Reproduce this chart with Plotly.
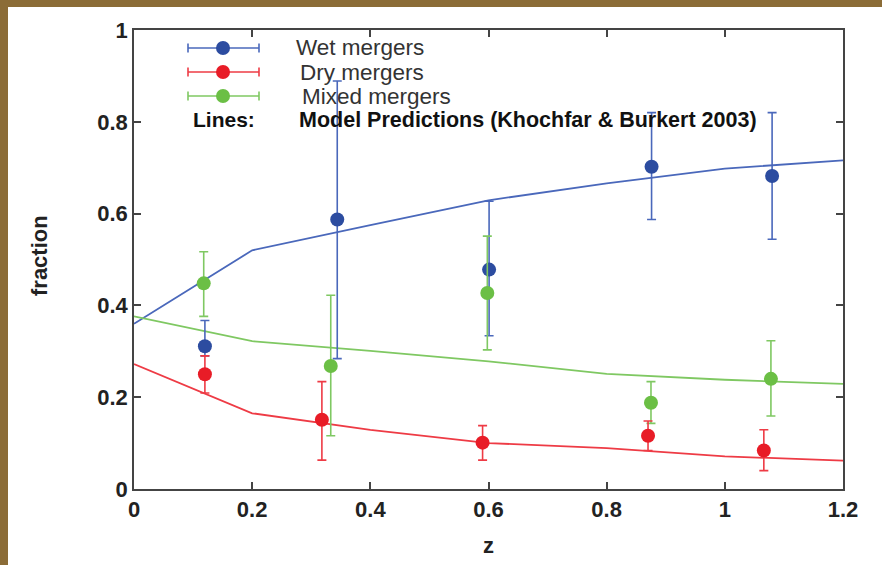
import plotly.graph_objects as go

# Observed merger fractions vs redshift, with asymmetric error bars
wet_z = [0.120, 0.344, 0.601, 0.876, 1.080]
wet_frac = [0.311, 0.587, 0.478, 0.702, 0.682]
wet_hi = [0.367, 0.889, 0.627, 0.820, 0.820]
wet_lo = [0.290, 0.284, 0.334, 0.587, 0.544]

dry_z = [0.120, 0.318, 0.590, 0.870, 1.066]
dry_frac = [0.250, 0.151, 0.101, 0.116, 0.084]
dry_hi = [0.290, 0.234, 0.138, 0.148, 0.129]
dry_lo = [0.209, 0.063, 0.063, 0.084, 0.040]

mix_z = [0.118, 0.333, 0.598, 0.875, 1.078]
mix_frac = [0.448, 0.268, 0.427, 0.188, 0.240]
mix_hi = [0.517, 0.422, 0.551, 0.234, 0.323]
mix_lo = [0.376, 0.116, 0.303, 0.143, 0.159]

# Model predictions (Khochfar & Burkert 2003)
model_z = [0.0, 0.2, 0.4, 0.6, 0.8, 1.0, 1.2]
model_wet = [0.360, 0.520, 0.575, 0.629, 0.666, 0.698, 0.716]
model_dry = [0.272, 0.165, 0.129, 0.100, 0.089, 0.071, 0.062]
model_mix = [0.376, 0.322, 0.301, 0.278, 0.251, 0.238, 0.229]

series_names = ["Wet mergers", "Dry mergers", "Mixed mergers"]
x_ticks = [0, 0.2, 0.4, 0.6, 0.8, 1.0, 1.2]
x_labels = ["0", "0.2", "0.4", "0.6", "0.8", "1", "1.2"]
y_ticks = [0, 0.2, 0.4, 0.6, 0.8, 1.0]
y_labels = ["0", "0.2", "0.4", "0.6", "0.8", "1"]

BLUE_M, BLUE_L = "#2c4ca0", "#4a68bb"
RED_M, RED_L = "#e81c27", "#ee3b45"
GREEN_M, GREEN_L = "#6bbf45", "#7fc862"

W, H = 882, 565
L, R, T, B = 134, 39, 30, 76
PW, PH = W - L - R, H - T - B
FONT = "Liberation Sans, Arial, sans-serif"


def px(xp):
    return (xp - L) / PW


def py(yp):
    return (H - B - yp) / PH


fig = go.Figure()

for zs, ys, col in [(model_z, model_wet, BLUE_L), (model_z, model_mix, GREEN_L),
                    (model_z, model_dry, RED_L)]:
    fig.add_trace(go.Scatter(x=zs, y=ys, mode="lines",
                             line=dict(color=col, width=1.8), showlegend=False))

for name, zs, ys, hi, lo, mc, lc in [
    (series_names[0], wet_z, wet_frac, wet_hi, wet_lo, BLUE_M, BLUE_L),
    (series_names[2], mix_z, mix_frac, mix_hi, mix_lo, GREEN_M, GREEN_L),
    (series_names[1], dry_z, dry_frac, dry_hi, dry_lo, RED_M, RED_L),
]:
    fig.add_trace(go.Scatter(
        x=zs, y=ys, mode="markers", name=name, showlegend=False,
        marker=dict(color=mc, size=14, line=dict(width=0)),
        error_y=dict(type="data", symmetric=False,
                     array=[h - v for h, v in zip(hi, ys)],
                     arrayminus=[v - l for v, l in zip(ys, lo)],
                     color=lc, thickness=1.6, width=4.5),
    ))

shapes = []
annotations = []

# Key: horizontal error-bar sample with a dot, then the series name
key_rows = [(48, BLUE_M, BLUE_L, 294), (72, RED_M, RED_L, 298), (96, GREEN_M, GREEN_L, 300)]
for (yr, mc, lc, tx), name in zip(key_rows, series_names):
    shapes.append(dict(type="line", xref="paper", yref="paper",
                       x0=px(188), x1=px(259), y0=py(yr), y1=py(yr),
                       line=dict(color=lc, width=1.6)))
    for xc in (188, 259):
        shapes.append(dict(type="line", xref="paper", yref="paper",
                           x0=px(xc), x1=px(xc), y0=py(yr - 4.5), y1=py(yr + 4.5),
                           line=dict(color=lc, width=1.6)))
    shapes.append(dict(type="circle", xref="paper", yref="paper",
                       x0=px(223 - 7), x1=px(223 + 7), y0=py(yr + 7), y1=py(yr - 7),
                       fillcolor=mc, line=dict(width=0)))
    annotations.append(dict(text=name, xref="paper", yref="paper", x=px(tx), y=py(yr),
                            xanchor="left", yanchor="middle", showarrow=False,
                            font=dict(family=FONT, size=22.5, color="#333333")))

annotations.append(dict(text="Lines:", xref="paper", yref="paper", x=px(191), y=py(120),
                        xanchor="left", yanchor="middle", showarrow=False,
                        font=dict(family=FONT, size=21, color="#111111", weight="bold")))
annotations.append(dict(text="Model Predictions (Khochfar & Burkert 2003)", xref="paper",
                        yref="paper", x=px(297), y=py(120), xanchor="left",
                        yanchor="middle", showarrow=False,
                        font=dict(family=FONT, size=21.5, color="#111111", weight="bold")))

# Axis titles
annotations.append(dict(text="z", xref="paper", yref="paper", x=0.5, y=py(545),
                        xanchor="center", yanchor="middle", showarrow=False,
                        font=dict(family=FONT, size=22, color="#222222", weight="bold")))
annotations.append(dict(text="fraction", xref="paper", yref="paper", x=px(39), y=py(255),
                        xanchor="center", yanchor="middle", showarrow=False, textangle=-90,
                        font=dict(family=FONT, size=22, color="#222222", weight="bold")))

# Frame band along the top and left edges
BAND = "#8b6c37"
shapes.append(dict(type="rect", xref="paper", yref="paper", x0=px(0), x1=px(W),
                   y0=py(7), y1=py(0), fillcolor=BAND, line=dict(width=0), layer="above"))
shapes.append(dict(type="rect", xref="paper", yref="paper", x0=px(0), x1=px(8),
                   y0=py(H), y1=py(0), fillcolor=BAND, line=dict(width=0), layer="above"))

axis_common = dict(showgrid=False, zeroline=False, showline=True, linecolor="#444444",
                   linewidth=1.5, mirror="ticks", ticks="inside", ticklen=7,
                   tickwidth=1.5, tickcolor="#444444",
                   tickfont=dict(family=FONT, size=22, color="#222222", weight="bold"))

fig.update_layout(
    width=W, height=H,
    margin=dict(l=L, r=R, t=T, b=B),
    paper_bgcolor="white", plot_bgcolor="white",
    showlegend=False,
    xaxis=dict(range=[0, 1.2], tickvals=x_ticks, ticktext=x_labels, **axis_common),
    yaxis=dict(range=[0, 1], tickvals=y_ticks, ticktext=y_labels, **axis_common),
    shapes=shapes,
    annotations=annotations,
)

fig.write_html("out.html")
